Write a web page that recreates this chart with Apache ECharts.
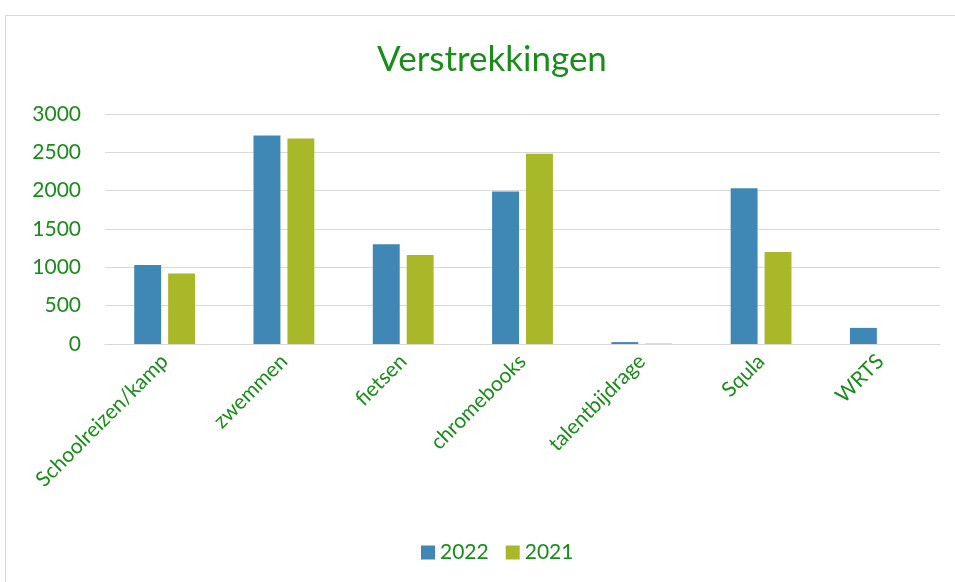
<!DOCTYPE html>
<html>
<head>
<meta charset="utf-8">
<script src="https://cdn.jsdelivr.net/npm/echarts@6/dist/echarts.min.js"></script>
<style>
  html, body { margin: 0; padding: 0; background: #fff; }
  #frame { position: absolute; left: 5px; top: 15px; width: 1000px; height: 600px; border: 1px solid #d9d9d9; }
  #chart { position: absolute; left: 0; top: 0; width: 955px; height: 582px; }
</style>
</head>
<body>
<div id="frame"></div>
<div id="chart"></div>
<script>
const categories = ["Schoolreizen/kamp", "zwemmen", "fietsen", "chromebooks", "talentbijdrage", "Squla", "WRTS"];
const values2022 = [1030, 2720, 1300, 1990, 25, 2030, 210];
const values2021 = [920, 2680, 1160, 2480, 5, 1200, 0];

const green = "#1a8c1a";
const font = "Lato";

let myChart = echarts.init(document.getElementById("chart"), null, { renderer: "canvas" });
myChart.setOption({
  animation: false,
  textStyle: { fontFamily: font },
  title: {
    text: "Verstrekkingen",
    left: 487,
    textAlign: "center",
    top: 37,
    textStyle: { color: green, fontSize: 35, fontWeight: "normal", fontFamily: font }
  },
  legend: {
    bottom: 14,
    left: 416,
    itemWidth: 14,
    itemHeight: 14,
    itemGap: 17,
    icon: "rect",
    textStyle: { color: green, fontSize: 21, fontFamily: font }
  },
  grid: { left: 105, right: 15, top: 114, bottom: 238, containLabel: false },
  xAxis: {
    type: "category",
    data: categories,
    axisTick: { show: false },
    axisLine: { lineStyle: { color: "#d9d9d9", width: 1 } },
    axisLabel: { rotate: 45, color: green, fontSize: 21, fontFamily: font, margin: 14, interval: 0 }
  },
  yAxis: {
    type: "value",
    min: 0,
    max: 3000,
    interval: 500,
    axisLine: { show: false },
    axisTick: { show: false },
    splitLine: { lineStyle: { color: "#d9d9d9", width: 1 } },
    axisLabel: {
      color: green, fontSize: 21, fontFamily: font, margin: 24,
      formatter: function (v) { return String(v); }
    }
  },
  series: [
    {
      name: "2022",
      type: "bar",
      data: values2022,
      barGap: "26%",
      barCategoryGap: "49%",
      itemStyle: { color: "#3f87b4" }
    },
    {
      name: "2021",
      type: "bar",
      data: values2021,
      itemStyle: { color: "#a8b829" }
    }
  ]
});
window.addEventListener("resize", function () {
  myChart.resize();
});
</script>
</body>
</html>
